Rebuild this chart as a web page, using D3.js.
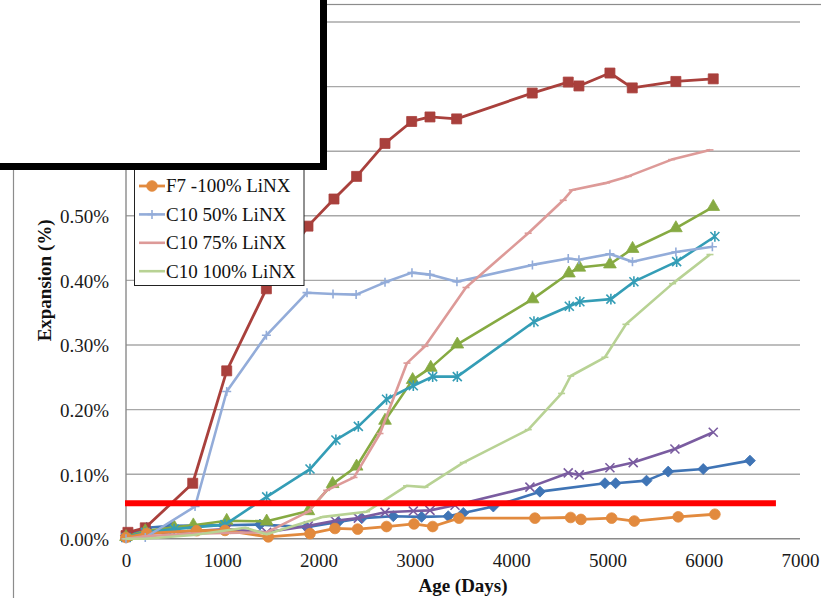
<!DOCTYPE html>
<html>
<head>
<meta charset="utf-8">
<script src="https://cdn.jsdelivr.net/npm/d3@7"></script>
<style>
  html, body { margin: 0; padding: 0; background: #fff; }
  svg { display: block; font-family: "Liberation Serif", "Times New Roman", serif; }
</style>
</head>
<body>
<svg id="chart" width="821" height="598"></svg>
<script>
// Axis ticks
const xTicks = [0, 1000, 2000, 3000, 4000, 5000, 6000, 7000];
const yTicks = [0, 0.1, 0.2, 0.3, 0.4, 0.5, 0.6, 0.7, 0.8];

// Expansion (%) against age (days), one array of [day, value] per mix
const blueDiamond = [[0,0.005],[214,0.017],[474,0.020],[1011,0.021],[1391,0.022],[1876,0.018],[2205,0.026],[2448,0.032],[2776,0.035],[3070,0.034],[3347,0.035],[3503,0.040],[3815,0.050],[4299,0.073],[4974,0.086],[5085,0.086],[5406,0.090],[5631,0.104],[5995,0.108],[6480,0.121]];
const redSquare = [[0,0.005],[20,0.010],[200,0.017],[693,0.086],[1046,0.260],[1458,0.387],[1890,0.484],[2160,0.526],[2395,0.561],[2690,0.612],[2967,0.646],[3157,0.653],[3434,0.650],[4219,0.690],[4593,0.707],[4704,0.701],[5026,0.721],[5258,0.698],[5711,0.708],[6099,0.712]];
const greenTriangle = [[0,0.003],[200,0.012],[500,0.018],[699,0.021],[1046,0.028],[1461,0.027],[1894,0.043],[2146,0.085],[2395,0.112],[2690,0.183],[2977,0.246],[3165,0.265],[3441,0.301],[4223,0.371],[4600,0.411],[4708,0.420],[5026,0.425],[5261,0.449],[5711,0.481],[6099,0.514]];
const purpleCross = [[0,0.002],[200,0.008],[700,0.012],[1046,0.015],[1461,0.010],[1894,0.020],[2170,0.028],[2413,0.032],[2690,0.041],[2984,0.043],[3157,0.044],[3417,0.052],[4195,0.080],[4593,0.102],[4708,0.099],[5026,0.110],[5268,0.118],[5701,0.139],[6099,0.165]];
const tealStar = [[0,0.002],[200,0.010],[500,0.015],[1028,0.022],[1461,0.065],[1911,0.108],[2180,0.153],[2413,0.174],[2706,0.216],[2984,0.237],[3185,0.251],[3441,0.251],[4237,0.336],[4604,0.360],[4714,0.367],[5036,0.371],[5275,0.398],[5719,0.429],[6116,0.468]];
const f7Full = [[0,0.002],[214,0.0085],[733,0.0125],[1028,0.013],[1478,0.003],[1911,0.008],[2170,0.016],[2406,0.015],[2706,0.019],[2991,0.023],[3185,0.019],[3458,0.032],[4247,0.032],[4618,0.033],[4725,0.030],[5044,0.032],[5279,0.0275],[5735,0.034],[6116,0.038]];
const c10Half = [[0,0.000],[200,0.002],[717,0.050],[1046,0.228],[1458,0.315],[1880,0.381],[2150,0.379],[2390,0.378],[2690,0.397],[2970,0.412],[3157,0.409],[3437,0.398],[4221,0.424],[4593,0.434],[4704,0.432],[5026,0.441],[5260,0.429],[5711,0.444],[6090,0.452]];
const c10ThreeQuarter = [[0,0.000],[200,0.004],[700,0.008],[1028,0.009],[1461,0.010],[1894,0.042],[2084,0.075],[2368,0.095],[2638,0.163],[2918,0.272],[3105,0.298],[3531,0.389],[4177,0.473],[4541,0.524],[4635,0.540],[4992,0.551],[5216,0.561],[5667,0.587],[6065,0.602]];
const c10Full = [[0,0.000],[200,0.000],[700,0.006],[1240,0.017],[1461,0.007],[2049,0.034],[2499,0.042],[2914,0.082],[3105,0.080],[3503,0.118],[4178,0.169],[4524,0.225],[4618,0.252],[4974,0.281],[5192,0.332],[5677,0.395],[6065,0.440]];

// Reference limit drawn across the plot
const limitValue = 0.055;
const limitDays = [0, 6750];

// Legend entries that are visible
const legendLabels = ["F7 -100% LiNX", "C10 50% LiNX", "C10 75% LiNX", "C10 100% LiNX"];

const svg = d3.select("#chart");

const x = d3.scaleLinear().domain([0, 7000]).range([126, 800]);
const y = d3.scaleLinear().domain([0, 0.8]).range([538.8, 22]);

// Outer chart frame
svg.append("rect")
  .attr("x", 13.5).attr("y", 4.5)
  .attr("width", 900).attr("height", 700)
  .attr("fill", "none").attr("stroke", "#8c8c8c").attr("stroke-width", 1.2);

// Horizontal gridlines
svg.append("g")
  .selectAll("line")
  .data(yTicks)
  .join("line")
  .attr("x1", x(0)).attr("x2", x(7000))
  .attr("y1", d => y(d)).attr("y2", d => y(d))
  .attr("stroke", d => d === 0 ? "#8a8a8a" : "#a8a8a8")
  .attr("stroke-width", 1.4);

// Vertical axis line
svg.append("line")
  .attr("x1", x(0)).attr("x2", x(0))
  .attr("y1", y(0)).attr("y2", y(0.8))
  .attr("stroke", "#8a8a8a").attr("stroke-width", 1.4);

// Y axis labels
const yAxis = d3.axisLeft(y).tickValues(yTicks).tickSize(0).tickPadding(17)
  .tickFormat(d => d3.format(".2f")(d) + "%");
svg.append("g")
  .attr("transform", `translate(${x(0)},0)`)
  .call(yAxis)
  .call(g => g.select(".domain").remove())
  .call(g => g.selectAll("text")
    .attr("font-family", "Liberation Serif, serif")
    .attr("font-size", 19).attr("fill", "#1a1a1a").attr("dy", "0.36em"));

// X axis labels
const xAxis = d3.axisBottom(x).tickValues(xTicks).tickSize(0).tickPadding(15)
  .tickFormat(d3.format("d"));
svg.append("g")
  .attr("transform", `translate(0,${y(0)})`)
  .call(xAxis)
  .call(g => g.select(".domain").remove())
  .call(g => g.selectAll("text")
    .attr("font-family", "Liberation Serif, serif")
    .attr("font-size", 19).attr("fill", "#1a1a1a"));

// Axis titles
svg.append("text")
  .attr("x", (x(0) + x(7000)) / 2).attr("y", 592)
  .attr("text-anchor", "middle")
  .attr("font-size", 19).attr("font-weight", "bold").attr("fill", "#111")
  .text("Age (Days)");

svg.append("text")
  .attr("transform", `translate(51,${(y(0) + y(0.8)) / 2}) rotate(-90)`)
  .attr("text-anchor", "middle")
  .attr("font-size", 19).attr("font-weight", "bold").attr("fill", "#111")
  .text("Expansion (%)");

// Marker shapes
const symbolPath = (type, size) => d3.symbol().type(type).size(size)();
const rhombusPath = r => `M0,${-r}L${r},0L0,${r}L${-r},0Z`;
const crossPath = r => `M${-r},${-r}L${r},${r}M${-r},${r}L${r},${-r}`;
const starPath = r => `M${-r},${-r}L${r},${r}M${-r},${r}L${r},${-r}M0,${-r * 1.2}L0,${r * 1.2}`;
const plusPath = r => `M${-r},0L${r},0M0,${-r}L0,${r}`;
const dashPath = r => `M${-r},0L${r},0`;

const seriesList = [
  { data: blueDiamond, color: "#3f74b5", width: 2.6, marker: rhombusPath(5.5), filled: true },
  { data: redSquare, color: "#a9403c", width: 2.8, marker: symbolPath(d3.symbolSquare, 100), filled: true },
  { data: greenTriangle, color: "#86aa42", width: 2.6, marker: symbolPath(d3.symbolTriangle, 70), filled: true },
  { data: purpleCross, color: "#7a5ca0", width: 2.6, marker: crossPath(4.5), filled: false },
  { data: tealStar, color: "#349db6", width: 2.6, marker: starPath(4.5), filled: false },
  { data: f7Full, color: "#e28a3e", width: 2.8, marker: symbolPath(d3.symbolCircle, 90), filled: true },
  { data: c10Half, color: "#93acd9", width: 2.6, marker: plusPath(4.5), filled: false },
  { data: c10ThreeQuarter, color: "#dd9a98", width: 2.6, marker: dashPath(3.5), filled: false },
  { data: c10Full, color: "#b8d294", width: 2.6, marker: dashPath(3.5), filled: false }
];

const line = d3.line().x(d => x(d[0])).y(d => y(d[1]));

const plot = svg.append("g");
seriesList.forEach(s => {
  const g = plot.append("g");
  g.append("path")
    .datum(s.data)
    .attr("d", line)
    .attr("fill", "none")
    .attr("stroke", s.color)
    .attr("stroke-width", s.width)
    .attr("stroke-linejoin", "round");
  g.selectAll("path.mk")
    .data(s.data)
    .join("path")
    .attr("class", "mk")
    .attr("transform", d => `translate(${x(d[0])},${y(d[1])})`)
    .attr("d", s.marker)
    .attr("fill", s.filled ? s.color : "none")
    .attr("stroke", s.color)
    .attr("stroke-width", s.filled ? 0.8 : 1.6);
});

// Limit line
svg.append("line")
  .attr("x1", x(limitDays[0]) - 1).attr("x2", x(limitDays[1]))
  .attr("y1", y(limitValue)).attr("y2", y(limitValue))
  .attr("stroke", "#ff0000").attr("stroke-width", 6);

// Legend
const legendSeries = [seriesList[5], seriesList[6], seriesList[7], seriesList[8]];
const legend = svg.append("g");
legend.append("rect")
  .attr("x", 134.5).attr("y", 100.5)
  .attr("width", 169.5).attr("height", 185)
  .attr("fill", "#fff").attr("stroke", "#222").attr("stroke-width", 1);
legendLabels.forEach((label, i) => {
  const cy = 186 + i * 28.4;
  const s = legendSeries[i];
  legend.append("line")
    .attr("x1", 139).attr("x2", 165)
    .attr("y1", cy).attr("y2", cy)
    .attr("stroke", s.color).attr("stroke-width", s.width);
  legend.append("path")
    .attr("transform", `translate(152,${cy})`)
    .attr("d", s.marker)
    .attr("fill", s.filled ? s.color : "none")
    .attr("stroke", s.color)
    .attr("stroke-width", s.filled ? 0.8 : 1.6);
  legend.append("text")
    .attr("x", 166).attr("y", cy)
    .attr("dy", "0.34em")
    .attr("font-size", 19).attr("fill", "#111")
    .text(label);
});

// Blank panel over the upper left corner
svg.append("rect")
  .attr("x", -10).attr("y", -10)
  .attr("width", 333.5).attr("height", 176.5)
  .attr("fill", "#fff").attr("stroke", "#000").attr("stroke-width", 7);
</script>
</body>
</html>
